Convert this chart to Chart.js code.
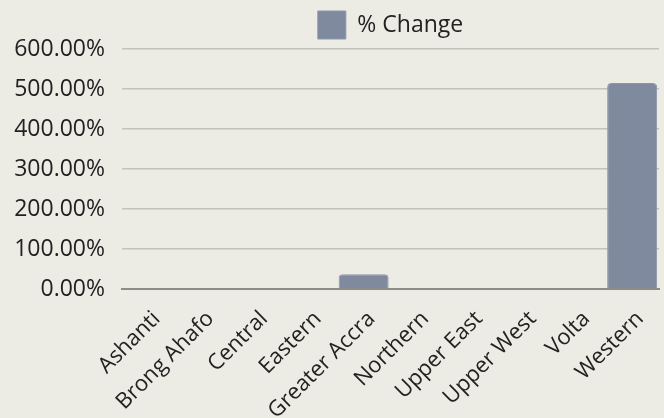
<!DOCTYPE html>
<html>
<head>
<meta charset="utf-8">
<script src="https://cdn.jsdelivr.net/npm/chart.js@4/dist/chart.umd.min.js"></script>
<style>
  html, body { margin: 0; padding: 0; background: #ecece4; }
  #wrap { width: 664px; height: 418px; }
</style>
</head>
<body>
<div id="wrap"><canvas id="chart" width="664" height="418"></canvas></div>
<script>
const regions = ["Ashanti", "Brong Ahafo", "Central", "Eastern", "Greater Accra",
  "Northern", "Upper East", "Upper West", "Volta", "Western"];
const pctChange = [0, 0, 0, 0, 37, 0, 0, 0, 0, 515];
const seriesLabel = "% Change";
const yTicks = [0, 100, 200, 300, 400, 500, 600];

const barColor = "#7f8a9e";
const font = "'Open Sans', sans-serif";

new Chart(document.getElementById("chart").getContext("2d"), {
  type: "bar",
  data: {
    labels: regions,
    datasets: [{
      label: seriesLabel,
      data: pctChange,
      backgroundColor: barColor,
      borderColor: "#8b96a8",
      borderWidth: 1,
      borderSkipped: "bottom",
      borderRadius: 4,
      barPercentage: 0.95,
      categoryPercentage: 0.98
    }]
  },
  options: {
    responsive: false,
    animation: false,
    layout: { padding: { left: 6, right: 5, top: 6, bottom: 0 } },
    plugins: {
      legend: {
        position: "top",
        fullSize: false,
        labels: {
          boxWidth: 28,
          boxHeight: 28,
          color: "#222",
          font: { family: font, size: 23 },
          padding: 5
        }
      },
      tooltip: { enabled: false }
    },
    scales: {
      x: {
        grid: { display: false },
        border: { color: "#8d8d88", width: 2 },
        afterFit: axis => { axis.height = 129; },
        ticks: {
          color: "#222",
          font: { family: font, size: 22 },
          maxRotation: 45,
          minRotation: 45,
          padding: 9,
          labelOffset: 8
        }
      },
      y: {
        min: yTicks[0],
        max: yTicks[yTicks.length - 1],
        afterBuildTicks: axis => { axis.ticks = yTicks.map(v => ({ value: v })); },
        afterFit: axis => { axis.width = 116; },
        grid: { color: "#c2c2bb", lineWidth: 1.5, drawTicks: false },
        border: { display: false },
        ticks: {
          color: "#222",
          font: { family: font, size: 23 },
          padding: 17,
          callback: v => v.toFixed(2) + "%"
        }
      }
    }
  }
});
</script>
</body>
</html>
